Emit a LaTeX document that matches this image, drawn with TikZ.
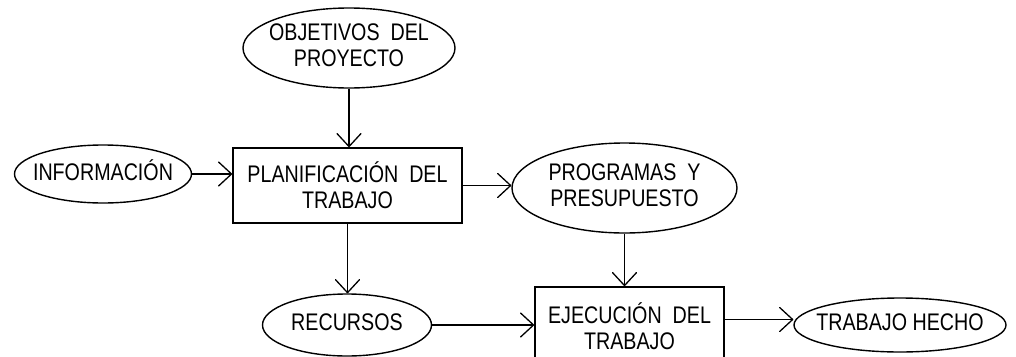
\documentclass[tikz,border=0pt]{standalone}
\usepackage{fontspec}
\setmainfont[FakeStretch=0.82]{Liberation Sans}
\usetikzlibrary{shapes.geometric,arrows.meta}
\newcommand{\zw}[1]{\makebox[0pt][c]{\begin{tabular}{@{}c@{}}#1\end{tabular}}}
\tikzset{
  lbl/.style={font=\fontsize{24}{26}\selectfont},
  ell/.style={ellipse, draw, line width=1.4pt, inner sep=0pt, lbl},
  procbox/.style={rectangle, draw, line width=1.6pt, inner sep=0pt, align=center, lbl},
  conn/.style={line width=1.5pt, -{Straight Barb[length=13pt,width=24pt,line width=1.3pt,round]}}
}
\begin{document}
\begin{tikzpicture}[x=1pt,y=-1pt]
\useasboundingbox (0,0) rectangle (1016,356);
\clip (0,0) rectangle (1016,356);
\node[ell, minimum width=212, minimum height=80] (obj) at (349,48) {\zw{OBJETIVOS\ \ DEL\\PROYECTO}};
\node[ell, minimum width=177, minimum height=58] (info) at (103,174) {\zw{INFORMACIÓN}};
\node[procbox, minimum width=229, minimum height=75] (plan) at (347.5,185.5) {PLANIFICACIÓN\ \ DEL\\TRABAJO};
\node[ell, minimum width=225, minimum height=90] (prog) at (624.5,188) {\zw{PROGRAMAS\ \ Y\\PRESUPUESTO}};
\node[ell, minimum width=169, minimum height=62] (rec) at (347,325) {\zw{RECURSOS}};
\node[procbox, minimum width=189, minimum height=79] (ejec) at (629.5,326.5) {EJECUCIÓN\ \ DEL\\TRABAJO};
\node[ell, minimum width=212, minimum height=54] (hecho) at (900,325) {\zw{TRABAJO HECHO}};
\draw[conn] (obj.south) -- (obj.south |- plan.north);
\draw[conn] (info.east) -- (info.east -| plan.west);
\draw[conn] (plan.east) -- (plan.east -| prog.west);
\draw[conn] (plan.south) -- (plan.south |- rec.north);
\draw[conn] (prog.south) -- (prog.south |- ejec.north);
\draw[conn] (rec.east) -- (rec.east -| ejec.west);
\draw[conn] ([yshift=7pt]ejec.east) -- ([yshift=7pt]ejec.east -| hecho.west);
\end{tikzpicture}
\end{document}
